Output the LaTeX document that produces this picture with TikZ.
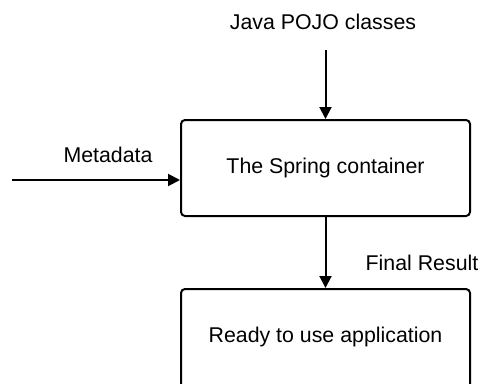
\documentclass[tikz,border=0pt]{standalone}
\usepackage{fontspec}
\setmainfont{Liberation Sans}
\usetikzlibrary{arrows.meta}

\begin{document}
\begin{tikzpicture}[x=0.75pt,y=-0.75pt,
    box/.style={draw, line width=1.5pt, rounded corners=3pt, minimum width=216.75pt, minimum height=72pt, font=\fontsize{16}{19}\selectfont},
    lbl/.style={font=\fontsize{16}{19}\selectfont},
    arr/.style={line width=1.5pt, -{Triangle[length=9pt,width=9pt]}}]
    \useasboundingbox (0,0) rectangle (482,383);
    \node[box] (spring) at (325.5,168) {The Spring container};
    \node[box, minimum height=75pt, text depth=7pt] (app) at (325.5,339) {Ready to use application};
    \node[lbl] (java) at (323,22) {Java POJO classes};
    \node[lbl] (meta) at (108,155) {Metadata};
    \node[lbl] (result) at (422,263) {Final Result};
    \coordinate (top) at (325.5,50);
    \coordinate (left) at (12,180);
    \draw[arr] (top) -- (spring.north);
    \draw[arr] (left) -- (spring.west |- left);
    \draw[arr] (spring.south) -- (app.north);
\end{tikzpicture}
\end{document}
